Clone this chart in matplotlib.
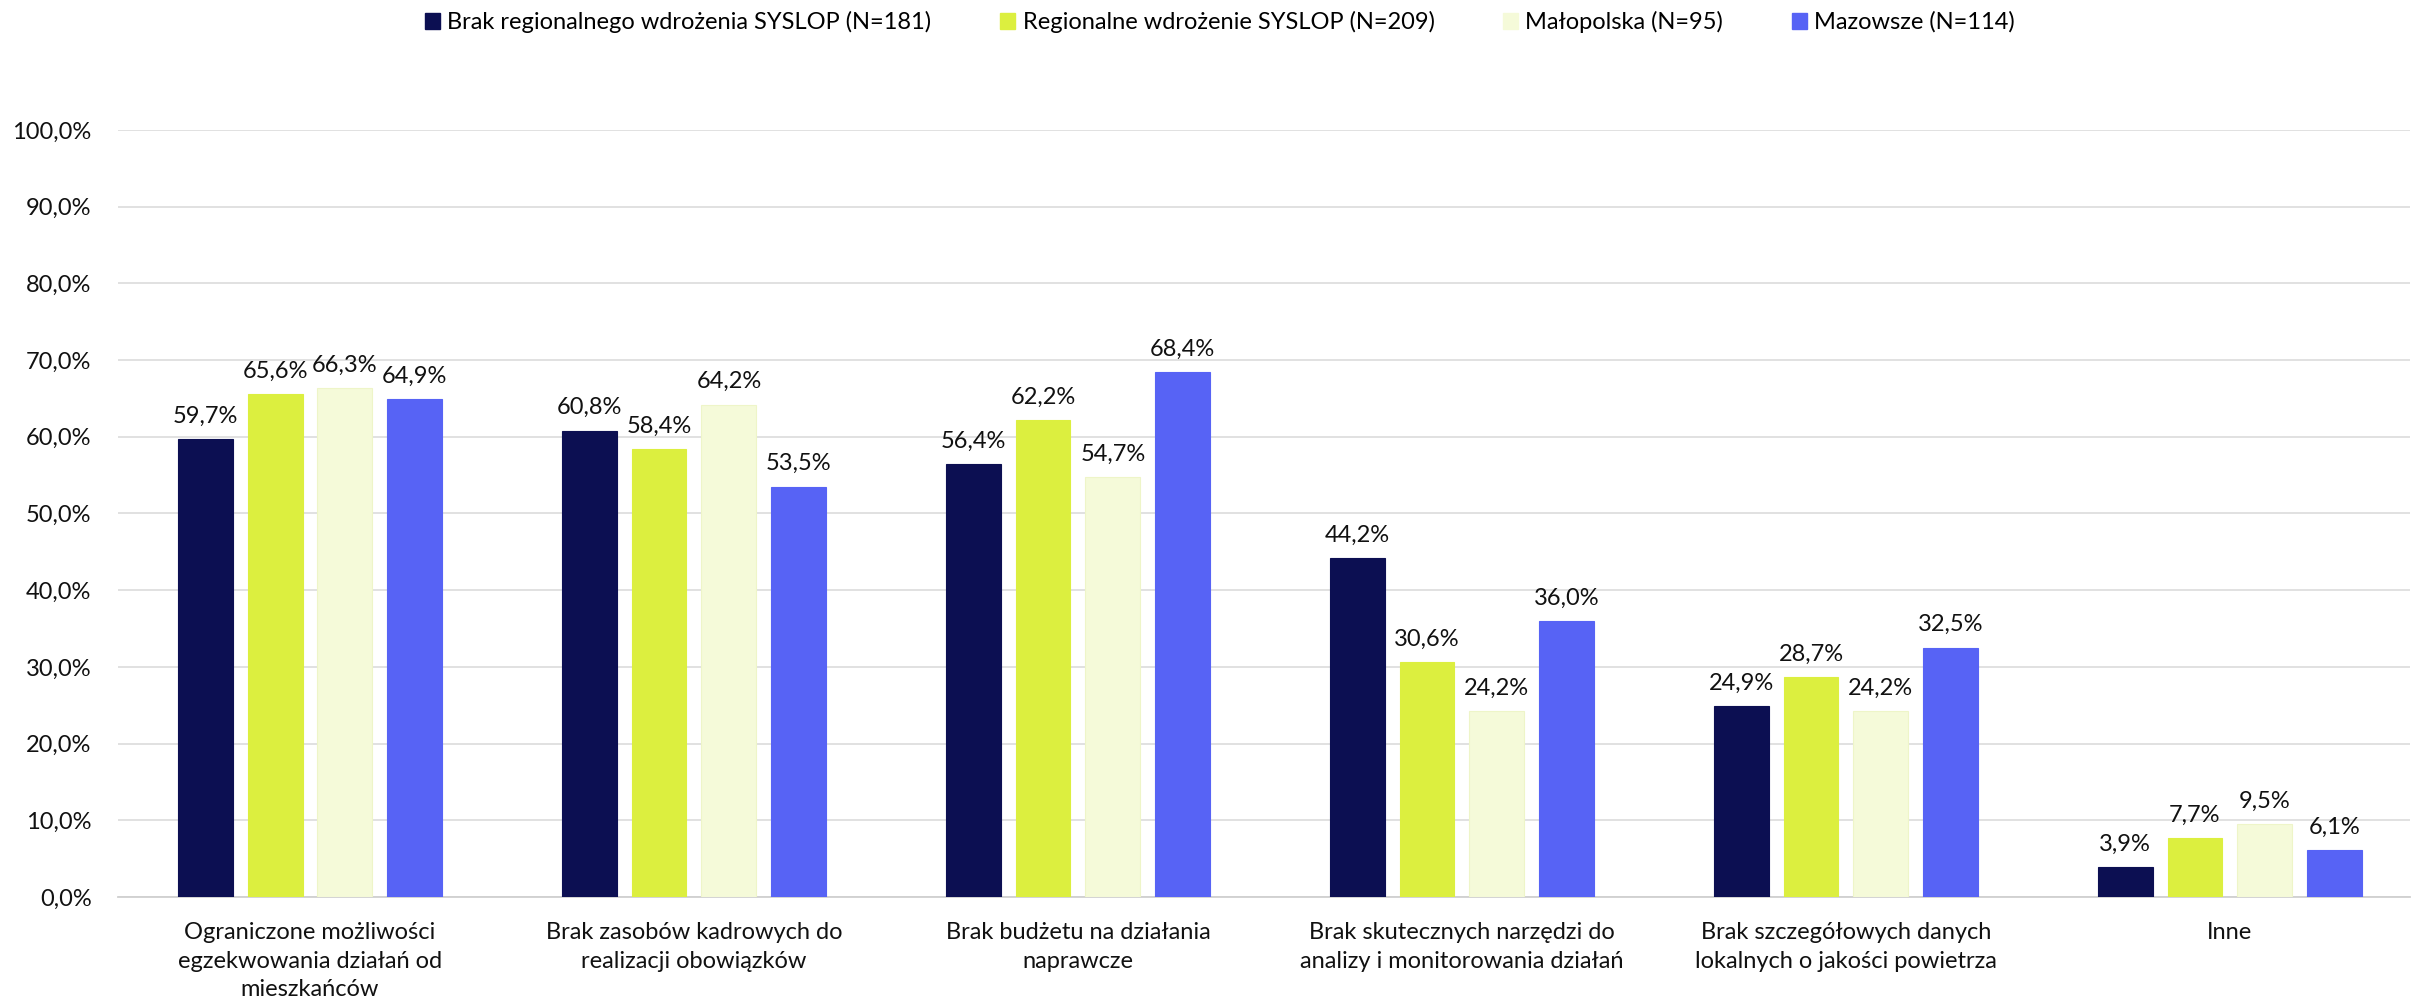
import matplotlib
matplotlib.use("Agg")
import matplotlib.pyplot as plt
from matplotlib.patches import Patch
import numpy as np

plt.rcParams['font.family'] = ['Lato', 'DejaVu Sans']

categories = [
    "Ograniczone możliwości\negzekwowania działań od\nmieszkańców",
    "Brak zasobów kadrowych do\nrealizacji obowiązków",
    "Brak budżetu na działania\nnaprawcze",
    "Brak skutecznych narzędzi do\nanalizy i monitorowania działań",
    "Brak szczegółowych danych\nlokalnych o jakości powietrza",
    "Inne",
]
series_names = [
    "Brak regionalnego wdrożenia SYSLOP (N=181)",
    "Regionalne wdrożenie SYSLOP (N=209)",
    "Małopolska (N=95)",
    "Mazowsze (N=114)",
]
brak = [59.7, 60.8, 56.4, 44.2, 24.9, 3.9]
regionalne = [65.6, 58.4, 62.2, 30.6, 28.7, 7.7]
malopolska = [66.3, 64.2, 54.7, 24.2, 24.2, 9.5]
mazowsze = [64.9, 53.5, 68.4, 36.0, 32.5, 6.1]
yticks = [0, 10, 20, 30, 40, 50, 60, 70, 80, 90, 100]

series = [brak, regionalne, malopolska, mazowsze]
colors = ["#0C0F52", "#DCEF3F", "#F5FAD9", "#5763F5"]

W, H = 2412, 1007
fig = plt.figure(figsize=(W / 100, H / 100), dpi=100)
ax = fig.add_axes([118 / W, 1 - 897 / H, (2410 - 118) / W, (897 - 130) / H])

x = np.arange(len(categories))
bw = 0.143
pitch = 0.182
fs = 17

for i, (vals, c) in enumerate(zip(series, colors)):
    off = (i - 1.5) * pitch
    ax.bar(x + off, vals, width=bw, color=c, zorder=3,
           edgecolor=("#EEF5C8" if i == 2 else c), linewidth=0.8)
    for xi, v in zip(x + off, vals):
        ax.annotate(f"{v:.1f}".replace(".", ",") + "%", (xi, v),
                    xytext=(0, 9), textcoords="offset points",
                    ha="center", va="bottom", fontsize=fs, color="#111111",
                    zorder=4)

ax.set_xlim(-0.5, 5.469)
ax.set_ylim(0, 100)
ax.set_yticks(yticks)
ax.set_yticklabels([f"{t:.1f}".replace(".", ",") + "%" for t in yticks],
                   fontsize=fs, color="#111111")
ax.set_xticks(x)
ax.set_xticklabels(categories, fontsize=fs, color="#111111", linespacing=1.45)
ax.tick_params(axis="y", length=0, pad=19)
ax.tick_params(axis="x", length=0, pad=18)
ax.yaxis.grid(True, color="#D9D9D9", linewidth=1.1, zorder=0)
ax.set_axisbelow(True)
for s in ["top", "right", "left"]:
    ax.spines[s].set_visible(False)
ax.spines["bottom"].set_color("#D0D0D0")
ax.spines["bottom"].set_linewidth(1.3)

handles = [Patch(facecolor=c, edgecolor=c) for c in colors]
fig.legend(handles, series_names, loc="center", bbox_to_anchor=(1220 / W, 1 - 22 / H),
           ncol=4, frameon=False, fontsize=fs, handlelength=0.65, handleheight=0.65,
           handletextpad=0.3, columnspacing=2.9, borderaxespad=0)

fig.savefig("out.png", dpi=100)
